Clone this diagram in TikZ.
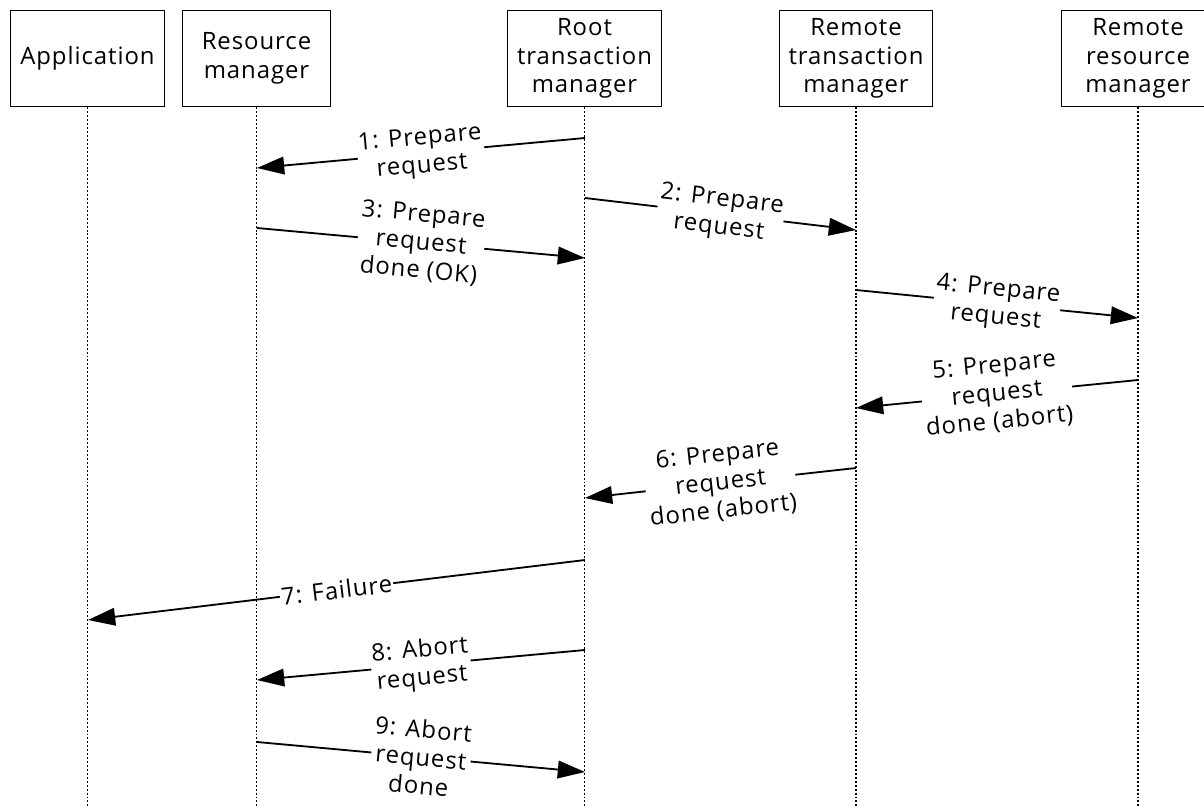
\documentclass[tikz,border=0pt]{standalone}
\usepackage{fontspec}
\setmainfont[LetterSpace=4]{Open Sans}
\usetikzlibrary{arrows.meta}
\tikzstyle{party} = [rectangle, draw=black, line width=0.8pt, minimum width=3.83cm, minimum height=2.42cm, text centered, align=center, font=\fontsize{17}{20.5}\selectfont]
\tikzstyle{lifeline} = [line width=0.8pt, dash pattern=on 1.4pt off 1.4pt]
\tikzstyle{msg} = [line width=1.3pt, -{Triangle[length=6.8mm, width=4.4mm]}]
\tikzstyle{note} = [midway, sloped, fill=white, inner sep=1pt, align=center, font=\fontsize{17}{20}\selectfont]

\begin{document}
\begin{tikzpicture}[x=0.025cm, y=-0.025cm]
\useasboundingbox (0,0) rectangle (1204,808);
%%%%% PARTICIPANTS
\node (app) [party] at (87.5,58.5) {Application};
\node (rm) [party, minimum width=3.68cm] at (256.5,58.5) {Resource\\manager};
\node (root) [party] at (584.5,58.5) {Root\\transaction\\manager};
\node (rtm) [party] at (856,58.5) {Remote\\transaction\\manager};
\node (rrm) [party] at (1138,58.5) {Remote\\resource\\manager};

%%%%% LIFELINES
\coordinate (bottom) at (0,808);
\draw [lifeline] (app.south) -- (app |- bottom);
\draw [lifeline] (rm.south) -- (rm |- bottom);
\draw [lifeline] (root.south) -- (root |- bottom);
\draw [lifeline] (rtm.south) -- (rtm |- bottom);
\draw [lifeline] (rrm.south) -- (rrm |- bottom);

%%%%% MESSAGE END POINTS
\coordinate (root1) at (585,138);  \coordinate (rm1) at (257,168);
\coordinate (root2) at (585,198);  \coordinate (rtm2) at (856,230);
\coordinate (rm3) at (257,228);    \coordinate (root3) at (585,258);
\coordinate (rtm4) at (856,290);   \coordinate (rrm4) at (1138,318);
\coordinate (rrm5) at (1138,380);  \coordinate (rtm5) at (856,408);
\coordinate (rtm6) at (856,468);   \coordinate (root6) at (585,498);
\coordinate (root7) at (585,560);  \coordinate (app7) at (88,620);
\coordinate (root8) at (585,650);  \coordinate (rm8) at (257,680);
\coordinate (rm9) at (257,742);    \coordinate (root9) at (585,772);

%%%%% MESSAGES
\draw [msg] (root1) -- node[note] {1: Prepare\\request} (rm1);
\draw [msg] (root2) -- node[note] {2: Prepare\\request} (rtm2);
\draw [msg] (rm3) -- node[note] {3: Prepare\\request\\done (OK)} (root3);
\draw [msg] (rtm4) -- node[note] {4: Prepare\\request} (rrm4);
\draw [msg] (rrm5) -- node[note] {5: Prepare\\request\\done (abort)} (rtm5);
\draw [msg] (rtm6) -- node[note] {6: Prepare\\request\\done (abort)} (root6);
\draw [msg] (root7) -- node[note] {7: Failure} (app7);
\draw [msg] (root8) -- node[note] {8: Abort\\request} (rm8);
\draw [msg] (rm9) -- node[note] {9: Abort\\request\\done} (root9);
\end{tikzpicture}
\end{document}
